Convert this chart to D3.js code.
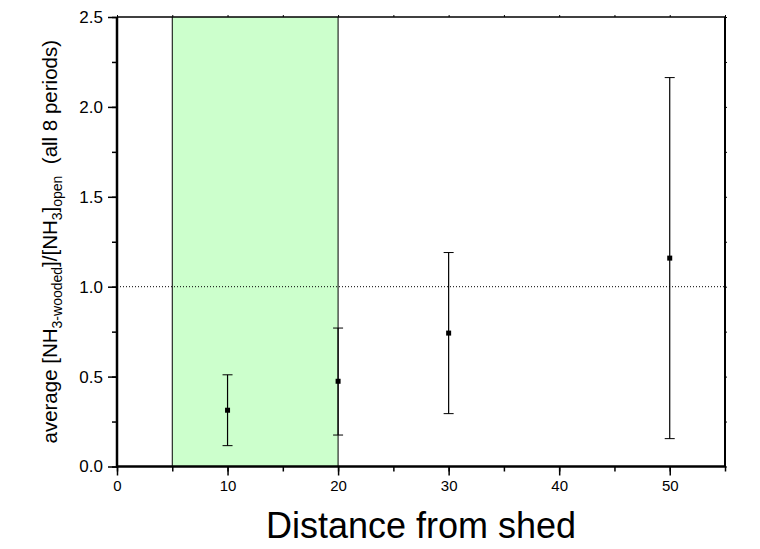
<!DOCTYPE html>
<html>
<head>
<meta charset="utf-8">
<script src="https://cdn.jsdelivr.net/npm/d3@7"></script>
<style>
  body { margin: 0; background: #fff; }
  text { font-family: "Liberation Sans", Arial, sans-serif; fill: #000; }
</style>
</head>
<body>
<div id="chart"></div>
<script>
// data
var distances  = [10, 20, 30, 50],
    ratios     = [0.313, 0.474, 0.742, 1.159],
    errLow     = [0.116, 0.175, 0.294, 0.155],
    errHigh    = [0.51, 0.77, 1.19, 2.163],
    xTicks     = [0, 10, 20, 30, 40, 50],
    yTicks     = [0.0, 0.5, 1.0, 1.5, 2.0, 2.5],
    shadeRange = [5, 20],
    refLevel   = 1.0;

var W = 760, H = 549,
    pL = 117, pR = 725, pT = 17, pB = 466.5;

var svg = d3.select("#chart").append("svg")
  .attr("width", W).attr("height", H);

var x = d3.scaleLinear().domain([0, 55]).range([pL, pR]);
var y = d3.scaleLinear().domain([0, 2.5]).range([pB, pT]);

// green band
svg.append("rect")
  .attr("x", x(shadeRange[0])).attr("y", pT)
  .attr("width", x(shadeRange[1]) - x(shadeRange[0]))
  .attr("height", pB - pT)
  .attr("fill", "#ccffcc");
shadeRange.forEach(function(v) {
  svg.append("line")
    .attr("x1", x(v)).attr("x2", x(v)).attr("y1", pT).attr("y2", pB)
    .attr("stroke", "#000").attr("stroke-width", 1);
});

// dotted reference line
svg.append("line")
  .attr("x1", pL).attr("x2", pR).attr("y1", y(refLevel)).attr("y2", y(refLevel))
  .attr("stroke", "#000").attr("stroke-width", 1).attr("stroke-dasharray", "1,2");

// axes
var xMinor = d3.range(0, 56, 5);
var yMinor = d3.range(0, 2.51, 0.25);

var bAxis = svg.append("g").attr("transform", "translate(0," + pB + ")")
  .call(d3.axisBottom(x).tickValues(xMinor).tickSize(5).tickFormat(""));
bAxis.selectAll(".tick line").attr("stroke-width", 1.5);
var bMajor = svg.append("g").attr("transform", "translate(0," + pB + ")")
  .call(d3.axisBottom(x).tickValues(xTicks).tickSize(9).tickPadding(5).tickFormat(d3.format("d")));
bMajor.selectAll(".tick line").attr("stroke-width", 1.5);
bMajor.selectAll("text").style("font-size", "15px").style("font-family", "Liberation Sans, Arial, sans-serif");

var lAxis = svg.append("g").attr("transform", "translate(" + pL + ",0)")
  .call(d3.axisLeft(y).tickValues(yMinor).tickSize(5).tickFormat(""));
lAxis.selectAll(".tick line").attr("stroke-width", 1.5);
var lMajor = svg.append("g").attr("transform", "translate(" + pL + ",0)")
  .call(d3.axisLeft(y).tickValues(yTicks).tickSize(9).tickPadding(5).tickFormat(d3.format(".1f")));
lMajor.selectAll(".tick line").attr("stroke-width", 1.5);
lMajor.selectAll("text").style("font-size", "17px").style("font-family", "Liberation Sans, Arial, sans-serif");

svg.append("g").attr("transform", "translate(" + pR + ",0)")
  .call(d3.axisRight(y).tickValues(yMinor).tickSize(2).tickFormat(""));
svg.append("g").attr("transform", "translate(0," + pT + ")")
  .call(d3.axisTop(x).tickValues(xMinor).tickSize(2).tickFormat(""));

svg.selectAll(".domain").remove();

// frame
svg.append("line").attr("x1", pL).attr("x2", pL).attr("y1", pT).attr("y2", pB + 1)
  .attr("stroke", "#000").attr("stroke-width", 2.5);
svg.append("line").attr("x1", pL - 1).attr("x2", pR + 1).attr("y1", pB).attr("y2", pB)
  .attr("stroke", "#000").attr("stroke-width", 2.5);
svg.append("line").attr("x1", pR).attr("x2", pR).attr("y1", pT).attr("y2", pB)
  .attr("stroke", "#000").attr("stroke-width", 2);
svg.append("line").attr("x1", pL).attr("x2", pR).attr("y1", pT).attr("y2", pT)
  .attr("stroke", "#000").attr("stroke-width", 1.5);

// error bars
var pts = distances.map(function(d, i) {
  return {x: d, v: ratios[i], lo: errLow[i], hi: errHigh[i]};
});
var g = svg.append("g");
g.selectAll(".err").data(pts).enter().append("line")
  .attr("x1", function(d) { return x(d.x); }).attr("x2", function(d) { return x(d.x); })
  .attr("y1", function(d) { return y(d.lo); }).attr("y2", function(d) { return y(d.hi); })
  .attr("stroke", "#000").attr("stroke-width", 1.2);
["lo", "hi"].forEach(function(k) {
  g.selectAll(".cap-" + k).data(pts).enter().append("line")
    .attr("x1", function(d) { return x(d.x) - 5; }).attr("x2", function(d) { return x(d.x) + 5; })
    .attr("y1", function(d) { return y(d[k]); }).attr("y2", function(d) { return y(d[k]); })
    .attr("stroke", "#000").attr("stroke-width", 1);
});
g.selectAll(".pt").data(pts).enter().append("rect")
  .attr("x", function(d) { return x(d.x) - 2.5; })
  .attr("y", function(d) { return y(d.v) - 2.5; })
  .attr("width", 5).attr("height", 5).attr("fill", "#000");

// axis titles
svg.append("text")
  .attr("x", (pL + pR) / 2).attr("y", 538)
  .attr("text-anchor", "middle")
  .style("font-size", "36px")
  .text("Distance from shed");

var yt = svg.append("text")
  .attr("transform", "translate(57," + ((pT + pB) / 2) + ") rotate(-90)")
  .attr("text-anchor", "middle")
  .style("font-size", "20.5px");
yt.append("tspan").text("average [NH");
yt.append("tspan").attr("dy", 5).style("font-size", "14px").text("3-wooded");
yt.append("tspan").attr("dy", -5).text("]/[NH");
yt.append("tspan").attr("dy", 5).style("font-size", "14px").text("3");
yt.append("tspan").attr("dy", -5).text("]");
yt.append("tspan").attr("dy", 5).style("font-size", "14px").text("open");
yt.append("tspan").attr("dy", -5).attr("xml:space", "preserve").text("  (all 8 periods)");
</script>
</body>
</html>
